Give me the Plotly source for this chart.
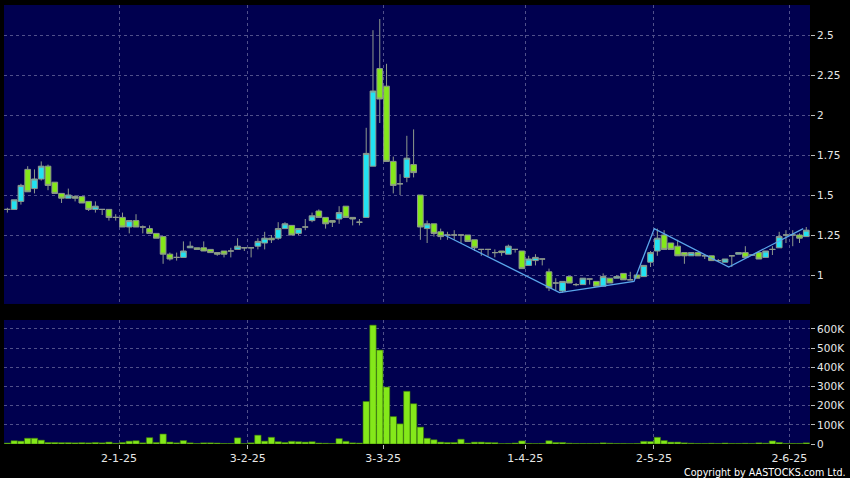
import pandas as pd
import plotly.graph_objects as go

# ---------------- data ----------------
holidays = ["2024-12-25", "2024-12-26", "2025-01-01", "2025-01-29", "2025-01-30",
            "2025-01-31", "2025-04-04", "2025-04-18", "2025-04-21", "2025-05-01", "2025-05-05"]
dates = [d.strftime("%Y-%m-%d") for d in pd.bdate_range("2024-12-05", "2025-06-04")
         if d.strftime("%Y-%m-%d") not in holidays]

opens = [1.41, 1.41, 1.46, 1.66, 1.54, 1.60, 1.68, 1.58, 1.51, 1.48,
         1.49, 1.49, 1.46, 1.41, 1.41, 1.41, 1.36, 1.36, 1.30, 1.34,
         1.30, 1.29, 1.26, 1.24, 1.13, 1.11, 1.11, 1.17, 1.17, 1.17,
         1.16, 1.14, 1.15, 1.15, 1.16, 1.17, 1.17, 1.18, 1.20, 1.23,
         1.23, 1.29, 1.31, 1.26, 1.30, 1.34, 1.40, 1.36, 1.34, 1.35,
         1.43, 1.36, 1.33, 1.36, 1.68, 2.29, 2.18, 1.71, 1.57, 1.61,
         1.69, 1.50, 1.29, 1.32, 1.27, 1.25, 1.25, 1.25, 1.25, 1.22,
         1.16, 1.16, 1.14, 1.15, 1.13, 1.16, 1.15, 1.06, 1.09, 1.10,
         1.02, 0.95, 0.90, 0.99, 0.94, 0.94, 0.975, 0.96, 0.93, 0.98,
         0.98, 1.01, 0.97, 1.00, 0.99, 1.08, 1.15, 1.25, 1.20, 1.18,
         1.14, 1.12, 1.14, 1.12, 1.12, 1.09, 1.08, 1.12, 1.13, 1.14,
         1.125, 1.14, 1.11, 1.16, 1.17, 1.25, 1.25, 1.25, 1.24]
highs = [1.42, 1.47, 1.57, 1.68, 1.66, 1.71, 1.69, 1.58, 1.51, 1.54,
         1.50, 1.49, 1.46, 1.46, 1.41, 1.41, 1.38, 1.39, 1.34, 1.38,
         1.31, 1.31, 1.26, 1.24, 1.14, 1.14, 1.21, 1.21, 1.17, 1.21,
         1.16, 1.14, 1.15, 1.17, 1.23, 1.17, 1.17, 1.23, 1.27, 1.25,
         1.33, 1.33, 1.31, 1.29, 1.35, 1.39, 1.41, 1.36, 1.34, 1.43,
         1.43, 1.36, 1.35, 1.92, 2.53, 2.60, 2.32, 1.74, 1.63, 1.87,
         1.91, 1.50, 1.34, 1.32, 1.29, 1.27, 1.28, 1.25, 1.25, 1.22,
         1.16, 1.16, 1.16, 1.15, 1.19, 1.16, 1.15, 1.12, 1.13, 1.10,
         1.04, 0.98, 0.96, 0.99, 0.95, 0.98, 0.975, 0.96, 1.01, 0.98,
         1.00, 1.01, 1.02, 1.00, 1.06, 1.15, 1.29, 1.28, 1.20, 1.22,
         1.14, 1.14, 1.14, 1.12, 1.12, 1.10, 1.10, 1.12, 1.14, 1.18,
         1.13, 1.14, 1.15, 1.18, 1.27, 1.28, 1.28, 1.26, 1.30]
lows = [1.39, 1.41, 1.44, 1.52, 1.51, 1.59, 1.53, 1.51, 1.45, 1.48,
        1.46, 1.45, 1.40, 1.39, 1.375, 1.34, 1.34, 1.30, 1.26, 1.30,
        1.26, 1.26, 1.23, 1.07, 1.09, 1.09, 1.11, 1.17, 1.16, 1.15,
        1.14, 1.12, 1.11, 1.11, 1.16, 1.15, 1.11, 1.16, 1.16, 1.20,
        1.22, 1.29, 1.25, 1.25, 1.28, 1.33, 1.36, 1.29, 1.30, 1.32,
        1.36, 1.31, 1.31, 1.36, 1.68, 1.95, 1.71, 1.51, 1.50, 1.58,
        1.61, 1.22, 1.20, 1.24, 1.22, 1.22, 1.22, 1.20, 1.21, 1.15,
        1.12, 1.12, 1.11, 1.12, 1.13, 1.14, 1.04, 1.06, 1.06, 1.06,
        0.90, 0.90, 0.89, 0.95, 0.93, 0.94, 0.94, 0.93, 0.93, 0.95,
        0.98, 0.97, 0.97, 0.98, 0.99, 1.05, 1.12, 1.16, 1.16, 1.12,
        1.07, 1.12, 1.12, 1.10, 1.09, 1.08, 1.08, 1.05, 1.13, 1.11,
        1.12, 1.10, 1.11, 1.125, 1.17, 1.20, 1.18, 1.20, 1.24]
closes = [1.41, 1.47, 1.56, 1.52, 1.60, 1.68, 1.56, 1.51, 1.48, 1.50,
          1.48, 1.45, 1.41, 1.43, 1.41, 1.36, 1.36, 1.30, 1.34, 1.30,
          1.30, 1.26, 1.23, 1.13, 1.10, 1.11, 1.15, 1.18, 1.16, 1.15,
          1.14, 1.13, 1.13, 1.15, 1.18, 1.17, 1.17, 1.21, 1.23, 1.22,
          1.29, 1.32, 1.25, 1.29, 1.30, 1.37, 1.36, 1.32, 1.33, 1.39,
          1.36, 1.35, 1.33, 1.76, 2.15, 2.10, 1.71, 1.56, 1.57, 1.73,
          1.64, 1.30, 1.32, 1.26, 1.24, 1.25, 1.25, 1.25, 1.21, 1.17,
          1.16, 1.16, 1.14, 1.14, 1.18, 1.16, 1.04, 1.10, 1.11, 1.10,
          0.92, 0.95, 0.96, 0.95, 0.94, 0.98, 0.975, 0.93, 0.99, 0.95,
          0.99, 0.97, 0.97, 0.98, 1.06, 1.14, 1.23, 1.16, 1.16, 1.12,
          1.12, 1.14, 1.12, 1.12, 1.09, 1.09, 1.10, 1.12, 1.14, 1.11,
          1.125, 1.10, 1.15, 1.16, 1.24, 1.25, 1.25, 1.23, 1.28]
volumes = [5e3, 17e3, 15e3, 30e3, 30e3, 20e3, 8e3, 8e3, 7e3, 7e3,
           6e3, 7e3, 6e3, 8e3, 6e3, 10e3, 4e3, 8e3, 15e3, 17e3,
           6e3, 33e3, 8e3, 52e3, 10e3, 6e3, 18e3, 6e3, 3e3, 6e3,
           6e3, 5e3, 3e3, 3e3, 32e3, 2e3, 6e3, 46e3, 15e3, 35e3,
           12e3, 8e3, 14e3, 12e3, 10e3, 12e3, 5e3, 4e3, 3e3, 28e3,
           14e3, 6e3, 5e3, 222e3, 620e3, 490e3, 297e3, 143e3, 105e3, 275e3,
           210e3, 88e3, 30e3, 22e3, 10e3, 8e3, 8e3, 25e3, 5e3, 10e3,
           10e3, 8e3, 7e3, 2e3, 3e3, 5e3, 16e3, 3e3, 2e3, 3e3,
           17e3, 8e3, 8e3, 4e3, 3e3, 3e3, 3e3, 3e3, 6e3, 4e3,
           3e3, 3e3, 2e3, 3e3, 14e3, 13e3, 35e3, 18e3, 10e3, 10e3,
           6e3, 4e3, 3e3, 3e3, 4e3, 3e3, 5e3, 3e3, 3e3, 4e3,
           3e3, 6e3, 4e3, 16e3, 8e3, 3e3, 3e3, 3e3, 6e3]

zz_dates = ["2025-03-14", "2025-04-09", "2025-04-28", "2025-05-02", "2025-05-20", "2025-06-04"]
zz_values = [1.25, 0.89, 0.96, 1.29, 1.05, 1.29]

tick_dates = ["2025-01-02", "2025-02-03", "2025-03-03", "2025-04-01", "2025-05-02", "2025-06-02"]
tick_labels = ["2-1-25", "3-2-25", "3-3-25", "1-4-25", "2-5-25", "2-6-25"]

price_ticks = [1, 1.25, 1.5, 1.75, 2, 2.25, 2.5]
price_tick_labels = ["1", "1.25", "1.5", "1.75", "2", "2.25", "2.5"]
vol_ticks = [0, 100e3, 200e3, 300e3, 400e3, 500e3, 600e3]
vol_tick_labels = ["0", "100K", "200K", "300K", "400K", "500K", "600K"]

# ---------------- figure ----------------
pos = {d: i for i, d in enumerate(dates)}
xs = [pos[d] for d in dates]
tick_pos = [pos[d] - 0.5 for d in tick_dates]
zz_x = [pos[d] - 0.45 for d in zz_dates]

CYAN = "#22E2F2"
LIME = "#84E81A"
OUTLINE = "#8E9A8C"
NAVY = "#00004F"
GRID = "#50508A"
TXT = "#E8E8E8"
FONT = "DejaVu Sans"

fig = go.Figure()
fig.add_trace(go.Candlestick(
    x=xs, open=opens, high=highs, low=lows, close=closes,
    increasing=dict(fillcolor=CYAN, line=dict(color=OUTLINE, width=1)),
    decreasing=dict(fillcolor=LIME, line=dict(color=OUTLINE, width=1)),
    whiskerwidth=0, xaxis="x", yaxis="y", showlegend=False,
))
fig.add_trace(go.Scatter(
    x=zz_x, y=zz_values, mode="lines", line=dict(color="#5AA6EA", width=1.3),
    xaxis="x", yaxis="y", showlegend=False, hoverinfo="skip",
))
fig.add_trace(go.Bar(
    x=xs, y=volumes, marker=dict(color=LIME, line=dict(color="#3C7A08", width=0.6)),
    xaxis="x2", yaxis="y2", showlegend=False,
))

xr = [-0.5, 118.55]
common_x = dict(range=xr, tickmode="array", tickvals=tick_pos, showgrid=True,
                gridcolor=GRID, griddash="3px,3px", gridwidth=1, zeroline=False,
                showline=False)
fig.update_layout(
    width=850, height=478,
    margin=dict(l=4, r=40, t=5, b=34, autoexpand=False),
    paper_bgcolor="black", plot_bgcolor=NAVY,
    font=dict(family=FONT, color=TXT, size=10),
    boxgap=0.0, boxgroupgap=0.16, bargap=0.06,
    xaxis=dict(**common_x, anchor="y", showticklabels=False, ticks="",
               rangeslider=dict(visible=False)),
    xaxis2=dict(**common_x, anchor="y2", ticktext=tick_labels, ticks="outside",
                ticklen=4, tickcolor="#BBBBBB", tickfont=dict(size=11, color=TXT)),
    yaxis=dict(domain=[0.319, 1.0], range=[0.819, 2.6875], side="right",
               tickmode="array", tickvals=price_ticks, ticktext=price_tick_labels,
               ticks="outside", ticklen=4, tickcolor="#BBBBBB",
               tickfont=dict(size=10.5, color=TXT),
               showgrid=True, gridcolor=GRID, griddash="3px,3px", zeroline=False),
    yaxis2=dict(domain=[0.0, 0.2825], range=[0, 647000], side="right",
                tickmode="array", tickvals=vol_ticks, ticktext=vol_tick_labels,
                ticks="outside", ticklen=4, tickcolor="#BBBBBB",
                tickfont=dict(size=10.5, color=TXT),
                showgrid=True, gridcolor=GRID, griddash="3px,3px", zeroline=False),
    annotations=[dict(text="Copyright by AASTOCKS.com Ltd.", xref="paper", yref="paper",
                      x=1.047, y=-0.064, xanchor="right", yanchor="middle",
                      showarrow=False, font=dict(size=9.6, color="#FFFFFF"))],
)

fig.write_html("out.html", config={"displayModeBar": False},
               post_script="document.body.style.margin='0';document.body.style.overflow='hidden';")
